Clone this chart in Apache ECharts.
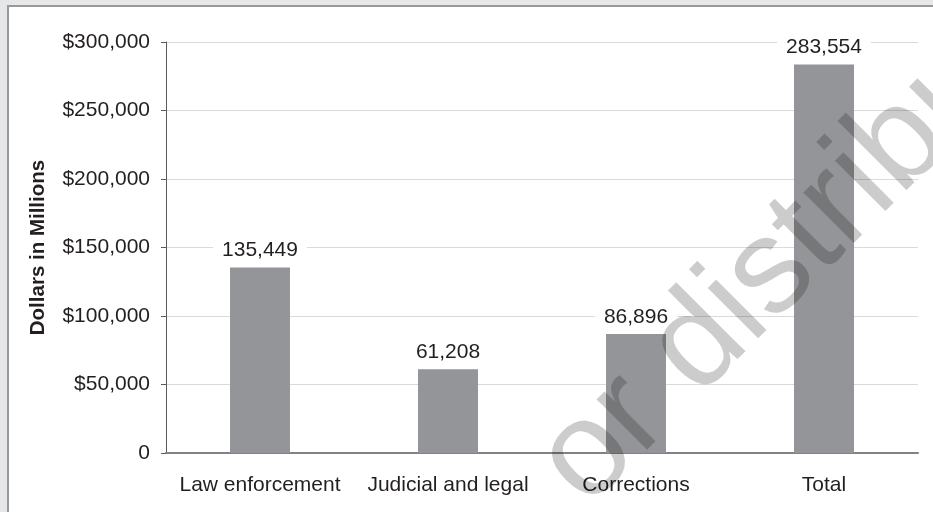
<!DOCTYPE html>
<html>
<head>
<meta charset="utf-8">
<script src="https://cdn.jsdelivr.net/npm/echarts@6/dist/echarts.min.js"></script>
<style>
html,body{margin:0;padding:0;background:#e6e7e8;}
#chart{width:933px;height:512px;}
</style>
</head>
<body>
<div id="chart"></div>
<script>
const categories = ['Law enforcement', 'Judicial and legal', 'Corrections', 'Total'];
const values = [135449, 61208, 86896, 283554];
const yTicks = [0, 50000, 100000, 150000, 200000, 250000, 300000];
const yAxisName = 'Dollars in Millions';
const watermark = 'or distribute';

const chart = echarts.init(document.getElementById('chart'), null, {renderer: 'canvas'});
const fmt = v => v === 0 ? '0' : '$' + v.toLocaleString('en-US');
const txt = '#231f20';
const font = 'Liberation Sans';

chart.setOption({
  backgroundColor: '#e6e7e8',
  animation: false,
  graphic: [
    {
      type: 'rect', z: -100, silent: true,
      shape: {x: 8, y: 6, width: 1000, height: 1000},
      style: {fill: '#ffffff', stroke: '#97999b', lineWidth: 2}
    },
    {
      type: 'text', z: 100, silent: true,
      x: 561, y: 483, rotation: Math.PI / 4,
      style: {
        text: watermark,
        fill: 'rgba(0,0,0,0.2)',
        font: '135px "Liberation Sans"',
        textAlign: 'left',
        textVerticalAlign: 'middle',
        verticalAlign: 'middle'
      }
    }
  ],
  grid: {left: 166, right: 15, top: 42, bottom: 59, containLabel: false},
  xAxis: {
    type: 'category',
    data: categories,
    axisLine: {show: true, lineStyle: {color: '#808285', width: 2}},
    axisTick: {show: false},
    axisLabel: {color: txt, fontFamily: font, fontSize: 21, margin: 20, lineHeight: 24, interval: 0}
  },
  yAxis: {
    type: 'value',
    min: 0, max: 300000, interval: 50000,
    name: yAxisName,
    nameLocation: 'middle',
    nameRotate: 90,
    nameGap: 117,
    nameTextStyle: {color: txt, fontFamily: font, fontWeight: 'bold', fontSize: 20.5},
    axisLine: {show: true, lineStyle: {color: '#58595b', width: 1}},
    axisTick: {show: true, inside: false, length: 5, lineStyle: {color: '#58595b'}},
    axisLabel: {color: txt, fontFamily: font, fontSize: 21, margin: 16, formatter: fmt},
    splitLine: {show: true, lineStyle: {color: '#d9dadb', width: 1}}
  },
  series: [{
    type: 'bar',
    data: values,
    barWidth: 60,
    itemStyle: {color: '#939598'},
    label: {
      show: true,
      position: 'top',
      distance: 5,
      color: txt,
      fontFamily: font,
      fontSize: 21,
      lineHeight: 24,
      backgroundColor: '#ffffff',
      padding: [0, 9],
      formatter: p => p.value.toLocaleString('en-US')
    }
  }]
});
</script>
</body>
</html>
